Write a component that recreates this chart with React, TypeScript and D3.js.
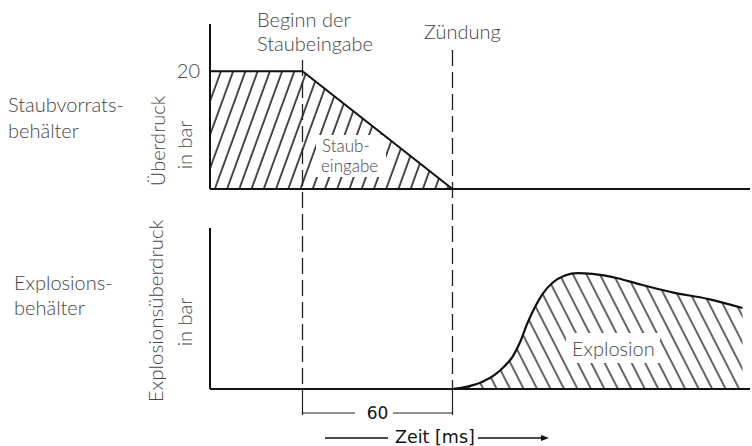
import React from "react";
import * as d3 from "d3";

// ---- data ----
const timeDomain = [0, 216]; // ms, measured from the y-axis
const beginTime = 37; // Beginn der Staubeingabe
const ignitionTime = 97; // Zündung
const intervalLabel = "60";

const dustTime = [0, 37, 97];
const dustPressure = [20, 20, 0];
const topDomain = [0, 28];
const topTicks = [20];

const explosionTime = [97, 103, 109, 114, 118, 121, 124, 127, 130, 133, 137, 142, 147, 153, 163, 172, 185, 199, 213];
const explosionPressure = [0, 0.15, 0.45, 0.9, 1.45, 2.0, 2.9, 4.1, 5.1, 5.9, 6.6, 7.05, 7.2, 7.15, 6.88, 6.5, 6.0, 5.6, 5.03];
const bottomDomain = [0, 10];

const FUT = "Lato, 'Open Sans', sans-serif";
const DV = "'DejaVu Sans', sans-serif";
const TXT = "#454545";

export default function App() {
  const x = d3.scaleLinear().domain(timeDomain).range([210, 750]);
  const yT = d3.scaleLinear().domain(topDomain).range([189, 24]);
  const yB = d3.scaleLinear().domain(bottomDomain).range([389, 228]);

  const dust = dustTime.map((t, i) => [t, dustPressure[i]] as [number, number]);
  const dustArea = d3.area<[number, number]>().x(d => x(d[0])).y0(yT(0)).y1(d => yT(d[1]))(dust) || "";
  const dustLine = d3.line<[number, number]>().x(d => x(d[0])).y(d => yT(d[1]))(dust) || "";

  const expl = explosionTime.map((t, i) => [t, explosionPressure[i]] as [number, number]);
  const crv = d3.curveMonotoneX;
  const explArea = d3.area<[number, number]>().curve(crv).x(d => x(d[0])).y0(yB(0)).y1(d => yB(d[1]))(expl) || "";
  const explLine = d3.line<[number, number]>().curve(crv).x(d => x(d[0])).y(d => yB(d[1]))(expl) || "";

  const xb = x(beginTime);
  const xi = x(ignitionTime);
  const x0 = x(timeDomain[0]);
  const x1 = x(timeDomain[1]);

  return (
    <svg width={752} height={446} style={{ position: "absolute", left: 0, top: 0, background: "#fff" }}>
      <defs>
        <pattern id="hatchA" width={11.5} height={20} patternUnits="userSpaceOnUse" patternTransform="rotate(20)">
          <line x1={2} y1={-5} x2={2} y2={25} stroke="#111" strokeWidth={1.5} />
        </pattern>
        <pattern id="hatchB" width={12} height={20} patternUnits="userSpaceOnUse" patternTransform="rotate(-27)">
          <line x1={2} y1={-5} x2={2} y2={25} stroke="#111" strokeWidth={1.3} />
        </pattern>
      </defs>

      {/* top chart */}
      <path d={dustArea} fill="url(#hatchA)" />
      <rect x={316} y={135} width={70} height={42} fill="#fff" />
      <path d={dustLine} fill="none" stroke="#111" strokeWidth={2} />
      <line x1={x0} x2={x0} y1={yT(topDomain[1])} y2={yT(0)} stroke="#111" strokeWidth={2} />
      <line x1={x0} x2={x1} y1={yT(0)} y2={yT(0)} stroke="#111" strokeWidth={2} />
      {topTicks.map(t => (
        <text key={t} x={200} y={yT(t)} dy="0.36em" textAnchor="end" fontFamily={FUT} fontWeight={300} fontSize={20} fill={TXT}>{t}</text>
      ))}
      <text x={322} y={152} fontFamily={FUT} fontWeight={300} fontSize={17} fill={TXT}>Staub-</text>
      <text x={321} y={172} fontFamily={FUT} fontWeight={300} fontSize={17} fill={TXT}>eingabe</text>

      {/* bottom chart */}
      <path d={explArea} fill="url(#hatchB)" />
      <rect x={566} y={333} width={94} height={30} fill="#fff" />
      <path d={explLine} fill="none" stroke="#111" strokeWidth={2.2} />
      <line x1={x0} x2={x0} y1={yB(bottomDomain[1])} y2={yB(0)} stroke="#111" strokeWidth={2} />
      <line x1={x0} x2={x1} y1={yB(0)} y2={yB(0)} stroke="#111" strokeWidth={2} />
      <text x={572} y={356} fontFamily={FUT} fontWeight={300} fontSize={20} fill={TXT}>Explosion</text>

      {/* event lines */}
      <line x1={xb} x2={xb} y1={60} y2={yB(0)} stroke="#222" strokeWidth={1.3} strokeDasharray="16,6" />
      <line x1={xi} x2={xi} y1={50} y2={yB(0)} stroke="#222" strokeWidth={1.3} strokeDasharray="16,6" />
      <line x1={xb} x2={xb} y1={yB(0)} y2={415} stroke="#222" strokeWidth={1.2} />
      <line x1={xi} x2={xi} y1={yB(0)} y2={415} stroke="#222" strokeWidth={1.2} />
      <line x1={xb} x2={355} y1={413} y2={413} stroke="#222" strokeWidth={1.2} />
      <line x1={393} x2={xi} y1={413} y2={413} stroke="#222" strokeWidth={1.2} />
      <text x={(xb + xi) / 2} y={419} textAnchor="middle" fontFamily={DV} fontSize={17} fill="#111">{intervalLabel}</text>

      {/* time arrow */}
      <line x1={325} x2={388} y1={438} y2={438} stroke="#111" strokeWidth={1.3} />
      <text x={395} y={443} fontFamily={DV} fontSize={17.5} fill="#111">Zeit [ms]</text>
      <line x1={478} x2={543} y1={438} y2={438} stroke="#111" strokeWidth={1.3} />
      <path d="M549,438 L541,435 L541,441 Z" fill="#111" />

      {/* annotations */}
      <text x={257} y={27} fontFamily={FUT} fontWeight={300} fontSize={20} fill={TXT}>Beginn der</text>
      <text x={257} y={51} fontFamily={FUT} fontWeight={300} fontSize={20} fill={TXT}>Staubeingabe</text>
      <text x={424} y={39} fontFamily={FUT} fontWeight={300} fontSize={20} fill={TXT}>Zündung</text>

      <text x={8} y={112} fontFamily={FUT} fontWeight={300} fontSize={20} fill={TXT}>Staubvorrats-</text>
      <text x={8} y={138} fontFamily={FUT} fontWeight={300} fontSize={20} fill={TXT}>behälter</text>
      <text x={14} y={290} fontFamily={FUT} fontWeight={300} fontSize={20} fill={TXT}>Explosions-</text>
      <text x={14} y={315} fontFamily={FUT} fontWeight={300} fontSize={20} fill={TXT}>behälter</text>

      <text transform="translate(165,141) rotate(-90)" textAnchor="middle" fontFamily={FUT} fontWeight={300} fontSize={20} fill={TXT}>Überdruck</text>
      <text transform="translate(192,145) rotate(-90)" textAnchor="middle" fontFamily={FUT} fontWeight={300} fontSize={20} fill={TXT}>in bar</text>
      <text transform="translate(163,311) rotate(-90)" textAnchor="middle" fontFamily={FUT} fontWeight={300} fontSize={20.5} fill={TXT}>Explosionsüberdruck</text>
      <text transform="translate(192,322) rotate(-90)" textAnchor="middle" fontFamily={FUT} fontWeight={300} fontSize={20} fill={TXT}>in bar</text>
    </svg>
  );
}
